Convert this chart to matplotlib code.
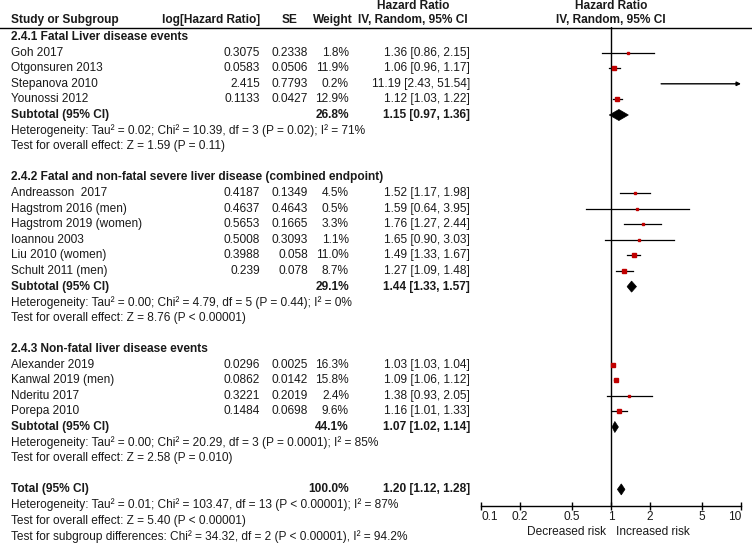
import matplotlib
matplotlib.use('Agg')
import matplotlib.pyplot as plt
import numpy as np

# Forest plot: hazard ratios of liver disease events, random-effects model

# Study level data
studies = [
    'Goh 2017', 'Otgonsuren 2013', 'Stepanova 2010', 'Younossi 2012',
    'Andreasson  2017', 'Hagstrom 2016 (men)', 'Hagstrom 2019 (women)',
    'Ioannou 2003', 'Liu 2010 (women)', 'Schult 2011 (men)',
    'Alexander 2019', 'Kanwal 2019 (men)', 'Nderitu 2017', 'Porepa 2010',
]
group_of = [0, 0, 0, 0, 1, 1, 1, 1, 1, 1, 2, 2, 2, 2]
log_hr = [0.3075, 0.0583, 2.415, 0.1133,
          0.4187, 0.4637, 0.5653, 0.5008, 0.3988, 0.239,
          0.0296, 0.0862, 0.3221, 0.1484]
se = [0.2338, 0.0506, 0.7793, 0.0427,
      0.1349, 0.4643, 0.1665, 0.3093, 0.058, 0.078,
      0.0025, 0.0142, 0.2019, 0.0698]
weight = [1.8, 11.9, 0.2, 12.9,
          4.5, 0.5, 3.3, 1.1, 11.0, 8.7,
          16.3, 15.8, 2.4, 9.6]
hr = [1.36, 1.06, 11.19, 1.12,
      1.52, 1.59, 1.76, 1.65, 1.49, 1.27,
      1.03, 1.09, 1.38, 1.16]
ci_low = [0.86, 0.96, 2.43, 1.03,
          1.17, 0.64, 1.27, 0.90, 1.33, 1.09,
          1.03, 1.06, 0.93, 1.01]
ci_high = [2.15, 1.17, 51.54, 1.22,
           1.98, 3.95, 2.44, 3.03, 1.67, 1.48,
           1.04, 1.12, 2.05, 1.33]

# Subgroup data
group_names = [
    '2.4.1 Fatal Liver disease events',
    '2.4.2 Fatal and non-fatal severe liver disease (combined endpoint)',
    '2.4.3 Non-fatal liver disease events',
]
sub_weight = [26.8, 29.1, 44.1]
sub_hr = [1.15, 1.44, 1.07]
sub_low = [0.97, 1.33, 1.02]
sub_high = [1.36, 1.57, 1.14]
sub_heterogeneity = [
    'Heterogeneity: Tau\u00b2 = 0.02; Chi\u00b2 = 10.39, df = 3 (P = 0.02); I\u00b2 = 71%',
    'Heterogeneity: Tau\u00b2 = 0.00; Chi\u00b2 = 4.79, df = 5 (P = 0.44); I\u00b2 = 0%',
    'Heterogeneity: Tau\u00b2 = 0.00; Chi\u00b2 = 20.29, df = 3 (P = 0.0001); I\u00b2 = 85%',
]
sub_effect = [
    'Test for overall effect: Z = 1.59 (P = 0.11)',
    'Test for overall effect: Z = 8.76 (P < 0.00001)',
    'Test for overall effect: Z = 2.58 (P = 0.010)',
]

# Overall data
total_weight = 100.0
total_hr = 1.20
total_low = 1.12
total_high = 1.28
total_notes = [
    'Heterogeneity: Tau\u00b2 = 0.01; Chi\u00b2 = 103.47, df = 13 (P < 0.00001); I\u00b2 = 87%',
    'Test for overall effect: Z = 5.40 (P < 0.00001)',
    'Test for subgroup differences: Chi\u00b2 = 34.32, df = 2 (P < 0.00001), I\u00b2 = 94.2%',
]

ticks = [0.1, 0.2, 0.5, 1, 2, 5, 10]
tick_labels = ['0.1', '0.2', '0.5', '1', '2', '5', '10']

# Layout (pixels)
W, H = 752, 546
FONT = 'Liberation Sans'
FS = 8.6
TXT = '#1a1a1a'
RED = '#c00000'
STEP = 15.6
x_name, x_log, x_se, x_w, x_hr = 11, 260, 308, 349, 470
plot_left, plot_right, plot_top, plot_bottom = 481, 741, 27, 506


def run():
    fig = plt.figure(figsize=(W / 100, H / 100), dpi=100)
    ax = fig.add_axes([0, 0, 1, 1])
    ax.set_xlim(0, W)
    ax.set_ylim(H, 0)
    ax.axis('off')

    fa = fig.add_axes([plot_left / W, (H - plot_bottom) / H,
                       (plot_right - plot_left) / W,
                       (plot_bottom - plot_top) / H])
    fa.set_xscale('log')
    fa.set_xlim(0.1, 10)
    fa.set_ylim(plot_bottom, plot_top)
    fa.patch.set_alpha(0)
    for pos in ['left', 'right', 'top']:
        fa.spines[pos].set_visible(False)
    fa.spines['bottom'].set_linewidth(1)
    fa.set_yticks([])
    fa.set_xticks(ticks)
    fa.set_xticklabels(tick_labels, fontsize=FS, family=FONT, color=TXT)
    fa.minorticks_off()
    fa.tick_params(axis='x', direction='inout', length=6, width=1, pad=0.5)
    labels = fa.get_xticklabels()
    labels[0].set_horizontalalignment('left')
    labels[-1].set_horizontalalignment('right')
    fa.axvline(1, color='black', lw=1)

    def t(x, y, s, ha='left', bold=False):
        ax.text(x, y, s, ha=ha, va='center', fontsize=FS, family=FONT,
                color=TXT, fontweight='bold' if bold else 'normal')

    # Headers
    t(x_name, 20, 'Study or Subgroup', bold=True)
    t(x_log, 20, 'log[Hazard Ratio]', ha='right', bold=True)
    t(297, 20, 'SE', ha='right', bold=True)
    t(353, 20, 'Weight', ha='right', bold=True)
    t(413, 6, 'Hazard Ratio', ha='center', bold=True)
    t(413, 20, 'IV, Random, 95% CI', ha='center', bold=True)
    t(611, 6, 'Hazard Ratio', ha='center', bold=True)
    t(611, 20, 'IV, Random, 95% CI', ha='center', bold=True)
    ax.plot([0, W], [27.5, 27.5], color='black', lw=1)

    def diamond(y, mid, lo, hi, h=5.5):
        fa.fill([lo, mid, hi, mid], [y, y - h, y, y + h], color='black', lw=0.5)

    y = 37
    for g, name in enumerate(group_names):
        t(x_name, y, name, bold=True)
        y += STEP
        for i in [k for k, gg in enumerate(group_of) if gg == g]:
            t(x_name, y, studies[i])
            t(x_log, y, str(log_hr[i]), ha='right')
            t(x_se, y, str(se[i]), ha='right')
            t(x_w, y, f'{weight[i]:.1f}%', ha='right')
            t(x_hr, y, f'{hr[i]:.2f} [{ci_low[i]:.2f}, {ci_high[i]:.2f}]', ha='right')
            if ci_high[i] > 10:
                fa.annotate('', xy=(10, y), xytext=(ci_low[i], y),
                            arrowprops=dict(arrowstyle='-|>', lw=1, color='black',
                                            mutation_scale=6, shrinkA=0, shrinkB=0),
                            annotation_clip=False)
            else:
                fa.plot([ci_low[i], ci_high[i]], [y, y], color='black', lw=0.9)
                side = max(2.0, 5.0 * np.sqrt(weight[i] / 16.3))
                fa.plot(hr[i], y, marker='s', ms=side * 0.72, color=RED, mec=RED)
            y += STEP
        t(x_name, y, 'Subtotal (95% CI)', bold=True)
        t(x_w, y, f'{sub_weight[g]:.1f}%', ha='right', bold=True)
        t(x_hr, y, f'{sub_hr[g]:.2f} [{sub_low[g]:.2f}, {sub_high[g]:.2f}]',
          ha='right', bold=True)
        diamond(y, sub_hr[g], sub_low[g], sub_high[g])
        y += STEP
        t(x_name, y, sub_heterogeneity[g])
        y += STEP
        t(x_name, y, sub_effect[g])
        y += 2 * STEP

    t(x_name, y, 'Total (95% CI)', bold=True)
    t(x_w, y, f'{total_weight:.1f}%', ha='right', bold=True)
    t(x_hr, y, f'{total_hr:.2f} [{total_low:.2f}, {total_high:.2f}]',
      ha='right', bold=True)
    diamond(y, total_hr, total_low, total_high)
    for note in total_notes:
        y += STEP
        t(x_name, y, note)

    t(606, 532, 'Decreased risk', ha='right')
    t(616, 532, 'Increased risk')

    fig.savefig('out.png', dpi=100, facecolor='white')


if __name__ == '__main__':
    run()
